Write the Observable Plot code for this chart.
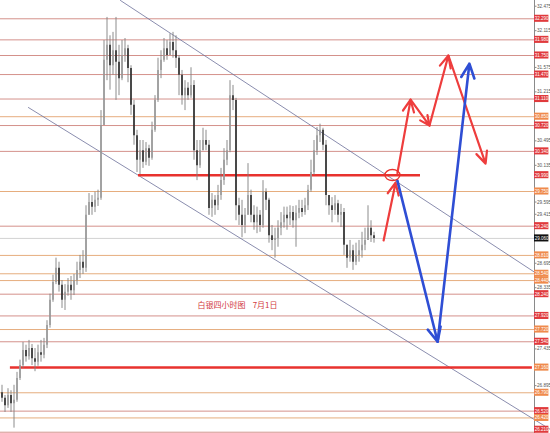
<!DOCTYPE html>
<html><head><meta charset="utf-8">
<script src="https://cdn.jsdelivr.net/npm/d3@7"></script>
<script src="https://cdn.jsdelivr.net/npm/@observablehq/plot@0.6"></script>
<style>html,body{margin:0;padding:0;background:#fff}#chart svg{display:block}</style>
</head><body><div id="chart"></div>
<script>
// ---- data ----
const firstOpen = 26.79;
const closes = [
26.71,26.60,26.75,26.63,26.68,27.00,27.19,27.41,27.32,27.44,
27.29,27.24,27.38,27.34,27.49,27.78,28.15,28.41,28.62,28.37,
28.15,28.27,28.37,28.29,28.44,28.59,28.71,28.62,29.40,29.59,
29.52,29.62,29.65,30.72,31.68,31.90,31.60,31.82,31.65,31.41,
31.75,31.85,31.56,31.02,30.57,30.21,30.35,30.18,30.38,30.24,
30.65,31.09,31.53,31.68,31.85,31.75,31.94,31.82,31.71,31.46,
31.16,31.27,31.16,31.31,30.35,30.13,30.35,30.50,30.43,29.50,
29.62,29.54,29.69,29.91,30.21,30.35,31.16,31.09,29.54,29.40,
29.25,29.40,29.69,29.40,29.29,29.40,29.25,29.74,29.62,29.10,
29.03,29.06,29.21,29.29,29.40,29.35,29.44,29.32,29.43,29.50,
29.44,29.54,29.77,30.03,30.35,30.57,30.65,30.43,29.69,29.54,
29.47,29.57,29.40,29.44,28.96,28.77,28.88,28.71,28.81,28.88,
28.96,29.03,29.21,29.10,29.06];
const highs = [
26.90,26.75,26.85,26.82,26.90,27.09,27.27,27.53,27.49,27.56,
27.50,27.44,27.49,27.56,27.59,27.85,28.24,28.52,28.77,28.71,
28.44,28.38,28.47,28.50,28.53,28.71,28.81,28.88,29.54,29.72,
29.69,29.74,29.77,30.94,31.97,32.31,32.04,32.09,32.31,31.90,
31.97,32.00,31.90,31.60,31.09,30.65,30.50,30.50,30.47,30.43,
30.77,31.16,31.71,31.82,32.00,31.97,32.07,32.09,32.04,31.75,
31.53,31.38,31.35,31.57,31.38,30.50,30.50,30.68,30.65,30.50,
29.72,29.69,29.84,30.09,30.38,30.50,31.38,31.31,31.12,29.65,
29.62,29.50,30.16,29.77,29.54,29.52,29.47,29.91,29.79,29.65,
29.25,29.21,29.32,29.44,29.52,29.52,29.54,29.53,29.54,29.62,
29.62,29.65,29.84,30.21,30.50,30.69,30.74,30.68,30.50,29.69,
29.66,29.69,29.62,29.56,29.50,28.96,29.03,28.96,28.99,29.03,
29.15,29.21,29.54,29.32,29.15];
const lows = [
26.65,26.50,26.56,26.50,26.27,26.65,26.97,27.15,27.24,27.27,
27.19,27.10,27.18,27.24,27.29,27.44,27.74,28.12,28.38,28.27,
28.03,28.00,28.21,28.15,28.22,28.37,28.47,28.53,28.56,29.40,
29.40,29.44,29.53,29.62,30.72,31.38,31.24,31.46,31.09,31.16,
31.38,31.65,31.35,30.87,30.43,30.03,30.00,30.09,30.13,30.12,
30.21,30.62,31.06,31.41,31.65,31.68,31.75,31.71,31.56,31.16,
31.02,30.94,31.09,31.12,30.21,29.91,30.09,30.35,30.35,29.40,
29.37,29.40,29.47,29.62,29.84,30.13,30.32,30.94,29.32,29.25,
29.07,29.13,29.40,29.29,29.18,29.13,29.15,29.21,29.47,28.99,
28.88,28.77,28.93,29.10,29.21,29.18,29.25,29.21,28.93,29.35,
29.37,29.40,29.47,29.74,29.99,30.28,30.47,30.35,29.54,29.40,
29.29,29.40,29.29,29.22,28.81,28.62,28.71,28.59,28.66,28.71,
28.77,28.88,29.03,29.00,28.99];

const levelPrices = [32.29,31.98,31.75,31.47,31.11,30.85,30.72,30.34,29.99,29.75,29.24,28.81,28.54,28.44,28.24,27.92,27.72,27.54,27.16,26.79,26.52,26.42,26.21];
const levelKinds  = ["r","r","r","r","r","o","r","r","r","o","r","o","o","o","r","r","o","r","o","o","r","o","r"];
const levelThin   = [1,1,1,1,1,1,1,1,0,1,1,1,1,1,1,1,1,1,0,1,1,1,1];
const currentPrice = 29.06;
const tickLabels = [32.475,32.295,32.115,31.935,31.755,31.575,31.395,31.215,31.035,30.855,30.675,30.495,30.315,30.135,29.955,29.775,29.595,29.415,29.235,29.055,28.875,28.695,28.515,28.335,28.155,27.975,27.795,27.615,27.435,27.255,27.075,26.895,26.715,26.535,26.355];

const thickLevels = [{p:29.99, t1:45.5, t2:139.5},{p:27.16, t1:2.8, t2:176.8}];
const upperTrend = [{t:39.5,p:32.559},{t:182.8,p:28.41}];
const lowerTrend = [{t:8.8,p:30.985},{t:182.8,p:26.25}];
const redArrows = [
  {t1:127.2,p1:29.03,t2:131.2,p2:29.88},
  {t1:131.8,p1:30.02,t2:136.2,p2:31.10},
  {t1:136.2,p1:31.10,t2:142.5,p2:30.72},
  {t1:142.5,p1:30.72,t2:148.8,p2:31.75},
  {t1:148.8,p1:31.75,t2:161.2,p2:30.16}];
const blueArrows = [
  {t1:131.8,p1:29.91,t2:145.2,p2:27.54},
  {t1:145.2,p1:27.54,t2:155.8,p2:31.63}];
const ringCenter = {t:130.3, p:29.985};
const titleText = "白银四小时图    7月1日";
const titlePos = {t:78.5, p:28.07};

// ---- build tables ----
const candles = closes.map((c,i)=>{
  const o = i===0 ? firstOpen : closes[i-1];
  return {t:i, o, c, h:Math.max(highs[i],o,c), l:Math.min(lows[i],o,c)};
});
const levels = levelPrices.map((p,i)=>({p, k:levelKinds[i], thin:levelThin[i]}));
// tick labels hidden behind a price box in the reference are not shown
const boxed = levelPrices.concat([currentPrice]);
const visibleTicks = tickLabels.filter(v => boxed.every(b => Math.abs(b - v) > 0.095));
const X0 = -0.5, X1 = 177.5, Y0 = 26.191, Y1 = 32.559;
const redC = "#e03a3c", orC = "#ef8a4c";
// keep box labels inside the frame (the lowest one sits on the bottom edge)
const labelY = d => Math.max(d.p, Y0 + 0.055);

const chart = Plot.plot({
  width:550, height:433, marginLeft:0, marginRight:16, marginTop:0, marginBottom:0,
  style:{background:"#fff", fontFamily:"Liberation Sans, DejaVu Sans, sans-serif"},
  x:{domain:[X0,X1], axis:null},
  y:{domain:[Y0,Y1], axis:null},
  marks:[
    Plot.ruleY(levels.filter(d=>d.thin), {y:"p", stroke:d=>d.k==="r"?"#d4918b":"#e6ad7e", strokeWidth:1}),
    Plot.ruleY([currentPrice], {stroke:"#d2d2d2", strokeWidth:1}),
    Plot.line(upperTrend, {x:"t", y:"p", stroke:"#6c7099", strokeWidth:0.8}),
    Plot.line(lowerTrend, {x:"t", y:"p", stroke:"#6c7099", strokeWidth:0.8}),
    Plot.ruleY(thickLevels, {y:"p", x1:"t1", x2:"t2", stroke:"#e8322e", strokeWidth:2.5}),
    Plot.ruleX(candles, {x:"t", y1:"l", y2:"h", stroke:"#808080", strokeWidth:0.9}),
    Plot.ruleX(candles, {x:"t", y1:"o", y2:"c", stroke:d=>d.c>=d.o?"#9a9a9a":"#2a2a2a", strokeWidth:1.6}),
    Plot.arrow(redArrows, {x1:"t1", y1:"p1", x2:"t2", y2:"p2", stroke:"#ee3d3d", strokeWidth:2.2, headLength:9, headAngle:50}),
    Plot.arrow(blueArrows, {x1:"t1", y1:"p1", x2:"t2", y2:"p2", stroke:"#2f4ed4", strokeWidth:2.6, headLength:9, headAngle:50}),
    Plot.text([titlePos], {x:"t", y:"p", text:()=>titleText, fill:"#d23a3e", fontSize:8, fontFamily:"Noto Sans CJK SC"}),
    Plot.axisY(visibleTicks, {anchor:"right", tickSize:1.5, fontSize:4.6, tickPadding:1, tickFormat:d=>d.toFixed(3), fill:"#555", stroke:"#888"}),
    Plot.ruleX([X1], {stroke:"#8a8a8a", strokeWidth:1}),
    Plot.rect(levels, {x1:()=>X1, x2:()=>X1+4.8, y1:d=>labelY(d)-0.052, y2:d=>labelY(d)+0.052, fill:d=>d.k==="r"?redC:orC}),
    Plot.text(levels, {x:()=>X1, dx:7, y:labelY, text:d=>d.p.toFixed(3), fill:"#fff", fontSize:4.5}),
    Plot.rect([currentPrice], {x1:()=>X1, x2:()=>X1+4.8, y1:d=>d-0.052, y2:d=>d+0.052, fill:"#111"}),
    Plot.text([currentPrice], {x:()=>X1, dx:7, y:d=>d, text:d=>d.toFixed(3), fill:"#fff", fontSize:4.5})
  ]
});
// red ring around the breakout point, positioned through Plot's scales
const sx = chart.scale("x"), sy = chart.scale("y");
d3.select(chart).append("ellipse")
  .attr("cx", sx.apply(ringCenter.t)).attr("cy", sy.apply(ringCenter.p))
  .attr("rx", 7.5).attr("ry", 5.5)
  .attr("fill","none").attr("stroke","#e8322e").attr("stroke-width",1.3);
document.getElementById("chart").appendChild(chart);
</script>
</body></html>
